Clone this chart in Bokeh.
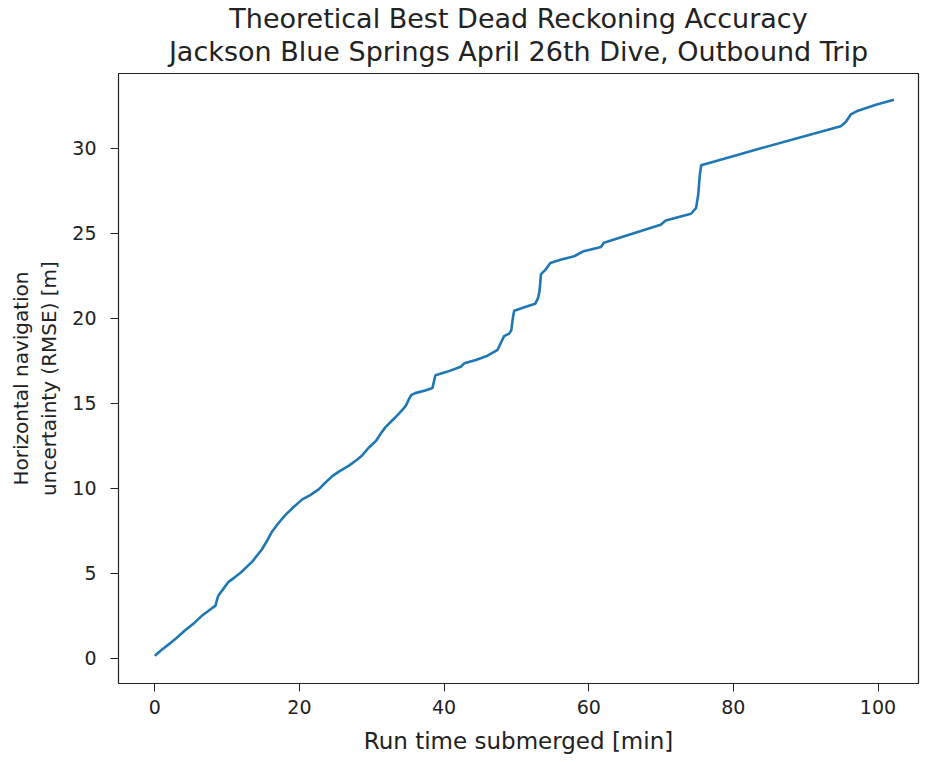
from bokeh.plotting import figure
from bokeh.models import Range1d, FixedTicker, Title
from bokeh.embed import file_html
from bokeh.resources import INLINE

# Data
time_min = [0, 0.8, 2.0, 3.0, 4.2, 5.5, 6.5, 7.9, 8.4, 8.6, 8.8, 9.5, 10.2, 11.0, 11.9,
            13.0, 13.5, 14.8, 15.5, 16.2, 17.0, 18.1, 19.2, 20.4, 21.5, 22.7, 23.5, 24.5,
            25.5, 26.9, 28.0, 28.7, 29.6, 30.6, 31.3, 31.9, 33.2, 34.2, 34.7, 35.2, 35.5,
            36.0, 37.4, 38.4, 38.6, 38.8, 40.4, 42.3, 42.8, 44.4, 46.0, 47.4, 47.9, 48.3,
            49.0, 49.3, 49.5, 49.7, 51.4, 52.6, 53.0, 53.2, 53.4, 54.0, 54.7, 56.1, 58.0,
            59.3, 61.7, 62.1, 65.8, 69.95, 70.65, 74.15, 74.85, 75.15, 75.35, 75.55, 79.7, 83.8,
            89.7, 94.85, 95.55, 96.25, 97.15, 99.6, 102.2]
rmse_m = [0.15, 0.45, 0.85, 1.2, 1.65, 2.1, 2.5, 2.95, 3.1, 3.45, 3.7, 4.1, 4.5, 4.75, 5.05,
          5.5, 5.7, 6.4, 6.9, 7.45, 7.9, 8.45, 8.9, 9.35, 9.6, 9.95, 10.3, 10.7,
          11.0, 11.35, 11.7, 11.95, 12.4, 12.8, 13.25, 13.6, 14.15, 14.6, 14.85, 15.3, 15.5,
          15.6, 15.75, 15.9, 16.3, 16.65, 16.85, 17.15, 17.35, 17.55, 17.8, 18.15, 18.6, 18.95,
          19.1, 19.3, 20.0, 20.45, 20.7, 20.85, 21.2, 21.6, 22.6, 22.85, 23.25, 23.45, 23.65,
          23.95, 24.2, 24.45, 24.95, 25.5, 25.75, 26.15, 26.5, 27.3, 28.4, 29.0, 29.5, 30.0,
          30.7, 31.3, 31.55, 32.0, 32.2, 32.55, 32.85]
x_ticks = [0, 20, 40, 60, 80, 100]
y_ticks = [0, 5, 10, 15, 20, 25, 30]
title_lines = ["Theoretical Best Dead Reckoning Accuracy",
               "Jackson Blue Springs April 26th Dive, Outbound Trip"]

FONT = "DejaVu Sans"
INK = "#222222"

p = figure(width=923, height=758, output_backend="svg", toolbar_location=None,
           title=None,
           x_range=Range1d(-5.02, 105.6), y_range=Range1d(-1.48, 34.4),
           min_border_left=118, min_border_right=5, min_border_bottom=75, min_border_top=73)

# second line first so that the first line ends up on top
for i, txt in enumerate(reversed(title_lines)):
    t = Title(text=txt, align="center", text_font=FONT, text_font_size="27px",
              text_font_style="normal", text_color=INK,
              vertical_align="middle" if i == 1 else "bottom",
              standoff=-14 if i == 1 else 13)
    p.add_layout(t, "above")

p.line(time_min, rmse_m, line_color="#1f77b4", line_width=2.6)

p.grid.visible = False
p.outline_line_color = INK
p.outline_line_width = 1.2

for ax in (p.xaxis, p.yaxis):
    ax.axis_line_color = INK
    ax.major_tick_line_color = INK
    ax.major_tick_out = 8
    ax.major_tick_in = 0
    ax.minor_tick_line_color = None
    ax.major_label_text_font = FONT
    ax.major_label_text_font_size = "19px"
    ax.major_label_text_color = INK
    ax.axis_label_text_font = FONT
    ax.axis_label_text_font_style = "normal"
    ax.axis_label_text_color = INK

p.xaxis.ticker = FixedTicker(ticks=x_ticks)
p.yaxis.ticker = FixedTicker(ticks=y_ticks)
p.xaxis.axis_label = "Run time submerged [min]"
p.yaxis.axis_label = "Horizontal navigation\nuncertainty (RMSE) [m]"
p.xaxis.axis_label_text_font_size = "23px"
p.yaxis.axis_label_text_font_size = "20px"
p.xaxis.major_label_standoff = 8
p.yaxis.major_label_standoff = 14
p.xaxis.axis_label_standoff = 11
p.yaxis.axis_label_standoff = 8

open("out.html", "w").write(file_html(p, INLINE))
